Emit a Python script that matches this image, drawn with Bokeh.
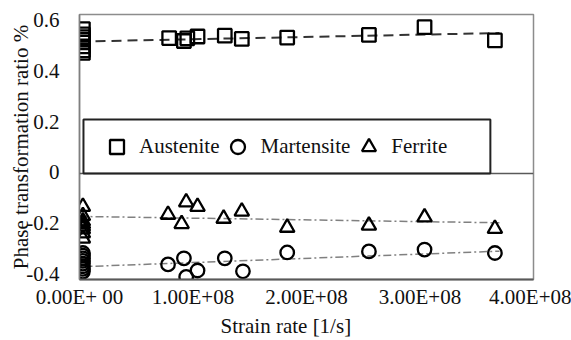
from bokeh.plotting import figure
from bokeh.models import (Legend, LegendItem, Range1d, FixedTicker, Span, BoxAnnotation,
                          LinearAxis, CustomJSTickFormatter, Title)
from bokeh.embed import file_html
from bokeh.resources import INLINE

# ---- data ----
austenite_x = [3e6, 3e6, 3e6, 3e6, 3e6, 3e6, 3e6, 3e6,
               0.79e8, 0.92e8, 0.95e8, 1.04e8, 1.28e8, 1.43e8, 1.83e8, 2.55e8, 3.04e8, 3.66e8]
austenite_y = [0.545, 0.525, 0.515, 0.505, 0.495, 0.48, 0.465, 0.455,
               0.511, 0.50, 0.51, 0.517, 0.52, 0.508, 0.513, 0.523, 0.552, 0.502]

martensite_x = [3e6, 3e6, 3e6, 3e6, 3e6, 3e6, 3e6, 3e6,
                0.78e8, 0.92e8, 0.94e8, 1.04e8, 1.28e8, 1.44e8, 1.83e8, 2.55e8, 3.04e8, 3.66e8]
martensite_y = [-0.30, -0.31, -0.32, -0.33, -0.34, -0.35, -0.36, -0.37,
                -0.343, -0.32, -0.39, -0.366, -0.32, -0.369, -0.298, -0.294, -0.287, -0.30]

ferrite_x = [3e6, 3e6, 3e6, 3e6, 3e6, 3e6, 3e6, 3e6,
             0.78e8, 0.90e8, 0.94e8, 1.04e8, 1.27e8, 1.43e8, 1.83e8, 2.55e8, 3.04e8, 3.66e8]
ferrite_y = [-0.125, -0.16, -0.18, -0.19, -0.20, -0.21, -0.225, -0.245,
             -0.155, -0.19, -0.108, -0.125, -0.17, -0.143, -0.204, -0.196, -0.165, -0.208]

# trend lines (end points)
austenite_trend_x = [0, 3.7e8]
austenite_trend_y = [0.498, 0.530]
martensite_trend_x = [0, 3.7e8]
martensite_trend_y = [-0.352, -0.293]
ferrite_trend_x = [0, 3.7e8]
ferrite_trend_y = [-0.162, -0.186]

x_ticks = [0, 100000000, 200000000, 300000000, 400000000]
x_tick_labels = ["0.00E+ 00", "1.00E+08", "2.00E+08", "3.00E+08", "4.00E+08"]
y_ticks = [-0.4, -0.2, 0, 0.2, 0.4, 0.6]
y_tick_labels = ["-0.4", "-0.2", "0", "0.2", "0.4", "0.6"]

series_names = ["Austenite", "Martensite", "Ferrite"]
x_title = "Strain rate [1/s]"
y_title = "Phase transformation ratio %"

FONT = "Liberation Serif"
FS = "21px"

LOOKUP = """
for (let i = 0; i < tick_vals.length; i++) {
    if (Math.abs(tick_vals[i] - tick) < 1e-6 * (Math.abs(tick_vals[i]) + 1)) return tick_labs[i];
}
return '';
"""

p = figure(width=571, height=340, x_range=Range1d(0, 4e8), y_range=Range1d(-0.4, 0.6),
           output_backend="svg", toolbar_location=None, y_axis_location=None,
           min_border_top=14, min_border_right=38, min_border_left=79, min_border_bottom=61)
p.background_fill_color = "white"
p.border_fill_color = "white"
p.outline_line_color = "#8c8c8c"
p.outline_line_width = 1.5
p.xgrid.visible = False
p.ygrid.visible = False

# the tick labels of the reference sit slightly inside the frame ends
p.extra_y_ranges = {"labels": Range1d(-0.4237, 0.6237)}
yax = LinearAxis(y_range_name="labels")
p.add_layout(yax, "left")

xax = p.xaxis[0]
xax.ticker = FixedTicker(ticks=x_ticks)
xax.formatter = CustomJSTickFormatter(args=dict(tick_vals=x_ticks, tick_labs=x_tick_labels), code=LOOKUP)
yax.ticker = FixedTicker(ticks=y_ticks)
yax.formatter = CustomJSTickFormatter(args=dict(tick_vals=y_ticks, tick_labs=y_tick_labels), code=LOOKUP)
for ax in (xax, yax):
    ax.major_tick_line_color = None
    ax.minor_tick_line_color = None
    ax.major_tick_out = 0
    ax.major_tick_in = 0
    ax.minor_tick_out = 0
    ax.minor_tick_in = 0
    ax.major_label_text_font = FONT
    ax.major_label_text_font_size = FS
    ax.major_label_text_font_style = "normal"
    ax.major_label_text_color = "#111111"
    ax.axis_label_text_font = FONT
    ax.axis_label_text_font_size = FS
    ax.axis_label_text_font_style = "normal"
    ax.axis_label_text_color = "#111111"
yax.axis_label = y_title
xax.axis_line_color = "#595959"
xax.axis_line_width = 2
yax.axis_line_color = "#7f7f7f"
yax.axis_line_width = 1.5
xax.major_label_standoff = 5
yax.major_label_standoff = 20
yax.axis_label_standoff = -10

# x-axis title, placed left of centre as in the reference
p.add_layout(Title(text=x_title, align="left", offset=141, standoff=0,
                   text_font=FONT, text_font_size=FS, text_font_style="normal",
                   text_color="#111111"), "below")

# zero line
p.add_layout(Span(location=0, dimension="width", line_color="#595959", line_width=1.5))

# legend frame
p.add_layout(BoxAnnotation(left=0.035e8, right=3.62e8, bottom=0, top=0.204,
                           fill_alpha=0, line_color="#222222", line_width=2, line_alpha=1))

# trend lines
p.line(austenite_trend_x, austenite_trend_y, line_color="#333333", line_width=2, line_dash="10 6")
p.line(martensite_trend_x, martensite_trend_y, line_color="#808080", line_width=1.5, line_dash="8 3 2 3")
p.line(ferrite_trend_x, ferrite_trend_y, line_color="#808080", line_width=1.5, line_dash="8 3 2 3")

# markers
r_a = p.scatter(austenite_x, austenite_y, marker="square", size=13.5, fill_alpha=0,
                line_color="black", line_width=2.3)
r_m = p.scatter(martensite_x, martensite_y, marker="circle", size=13.5, fill_alpha=0,
                line_color="black", line_width=2.3)
r_f = p.scatter(ferrite_x, ferrite_y, marker="triangle", size=14.5, fill_alpha=0,
                line_color="black", line_width=2.3)

legend = Legend(items=[LegendItem(label=series_names[0], renderers=[r_a]),
                       LegendItem(label=series_names[1], renderers=[r_m]),
                       LegendItem(label=series_names[2], renderers=[r_f])],
                orientation="horizontal", location=(20, 115),
                glyph_width=35, glyph_height=35, label_standoff=5, spacing=1, padding=0,
                border_line_color=None, background_fill_alpha=0,
                label_text_font=FONT, label_text_font_size=FS, label_text_color="#111111")
p.add_layout(legend, "center")

open("out.html", "w").write(file_html(p, INLINE))
